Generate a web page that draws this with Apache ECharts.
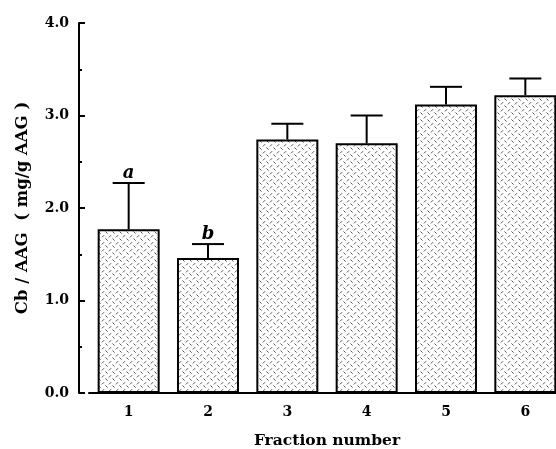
<!DOCTYPE html>
<html>
<head>
<meta charset="utf-8">
<script src="https://cdn.jsdelivr.net/npm/echarts@6/dist/echarts.min.js"></script>
<style>html,body{margin:0;padding:0;background:#fff}#c{width:556px;height:449px}</style>
</head>
<body>
<div id="c"></div>
<script>
const categories = ['1', '2', '3', '4', '5', '6'];
const means = [1.77, 1.46, 2.74, 2.70, 3.12, 3.22];
const upper = [2.27, 1.61, 2.91, 3.00, 3.31, 3.40];
const letters = ['a', 'b', '', '', '', ''];

function makePattern() {
  const c = document.createElement('canvas');
  c.width = 7; c.height = 7;
  const g = c.getContext('2d');
  g.fillStyle = '#fff'; g.fillRect(0, 0, 7, 7);
  g.strokeStyle = '#555'; g.lineWidth = 1;
  g.beginPath(); g.moveTo(0.5, 0.5); g.lineTo(2.6, 2.6); g.stroke();
  g.beginPath(); g.moveTo(3.9, 6.4); g.lineTo(6.1, 4.2); g.stroke();
  return c;
}

const font = 'DejaVu Serif';
const chart = echarts.init(document.getElementById('c'));
chart.setOption({
  animation: false,
  backgroundColor: '#fff',
  grid: { left: 89, right: -9, top: 23, bottom: 56, containLabel: false, outerBoundsMode: 'none' },
  xAxis: {
    type: 'category',
    data: categories,
    name: 'Fraction number',
    nameLocation: 'middle',
    nameGap: 40,
    nameTextStyle: { fontFamily: font, fontWeight: 'bold', fontSize: 15.5, color: '#000' },
    axisLine: { lineStyle: { color: '#000', width: 2 } },
    axisTick: { show: false },
    axisLabel: { fontFamily: font, fontWeight: 'bold', fontSize: 14, color: '#000', margin: 12 }
  },
  yAxis: {
    type: 'value',
    min: 0, max: 4, interval: 1,
    offset: 10,
    name: 'Cb / AAG  ( mg/g AAG )',
    nameLocation: 'middle',
    nameGap: 48,
    nameTextStyle: { fontFamily: font, fontWeight: 'bold', fontSize: 16.5, color: '#000' },
    axisLine: { show: true, lineStyle: { color: '#000', width: 2 } },
    axisTick: { show: true, inside: true, length: 6, lineStyle: { color: '#000', width: 2 } },
    minorTick: { show: true, splitNumber: 2, length: 3, lineStyle: { color: '#000', width: 2 } },
    splitLine: { show: false },
    axisLabel: { fontFamily: font, fontWeight: 'bold', fontSize: 14, color: '#000', margin: 10,
      formatter: v => v.toFixed(1) }
  },
  series: [
    {
      type: 'bar',
      data: means,
      barWidth: 62,
      itemStyle: { color: { image: makePattern(), repeat: 'repeat' }, borderColor: '#000', borderWidth: 2 },
      z: 2
    },
    {
      type: 'custom',
      z: 3,
      data: categories.map((c, i) => [i, means[i], upper[i]]),
      renderItem: function (params, api) {
        const i = api.value(0);
        const p0 = api.coord([i, api.value(1)]);
        const p1 = api.coord([i, api.value(2)]);
        const half = 16;
        const children = [
          { type: 'line', shape: { x1: p0[0], y1: p0[1], x2: p1[0], y2: p1[1] }, style: { stroke: '#000', lineWidth: 2 } },
          { type: 'line', shape: { x1: p1[0] - half, y1: p1[1], x2: p1[0] + half, y2: p1[1] }, style: { stroke: '#000', lineWidth: 2 } }
        ];
        const t = letters[i];
        if (t) {
          children.push({ type: 'text', x: p1[0], y: p1[1] - 1,
            style: { text: t, fontFamily: font, fontStyle: 'italic', fontWeight: 'bold', fontSize: 18, fill: '#000', align: 'center', verticalAlign: 'bottom' } });
        }
        return { type: 'group', children: children };
      }
    }
  ]
});
</script>
</body>
</html>
